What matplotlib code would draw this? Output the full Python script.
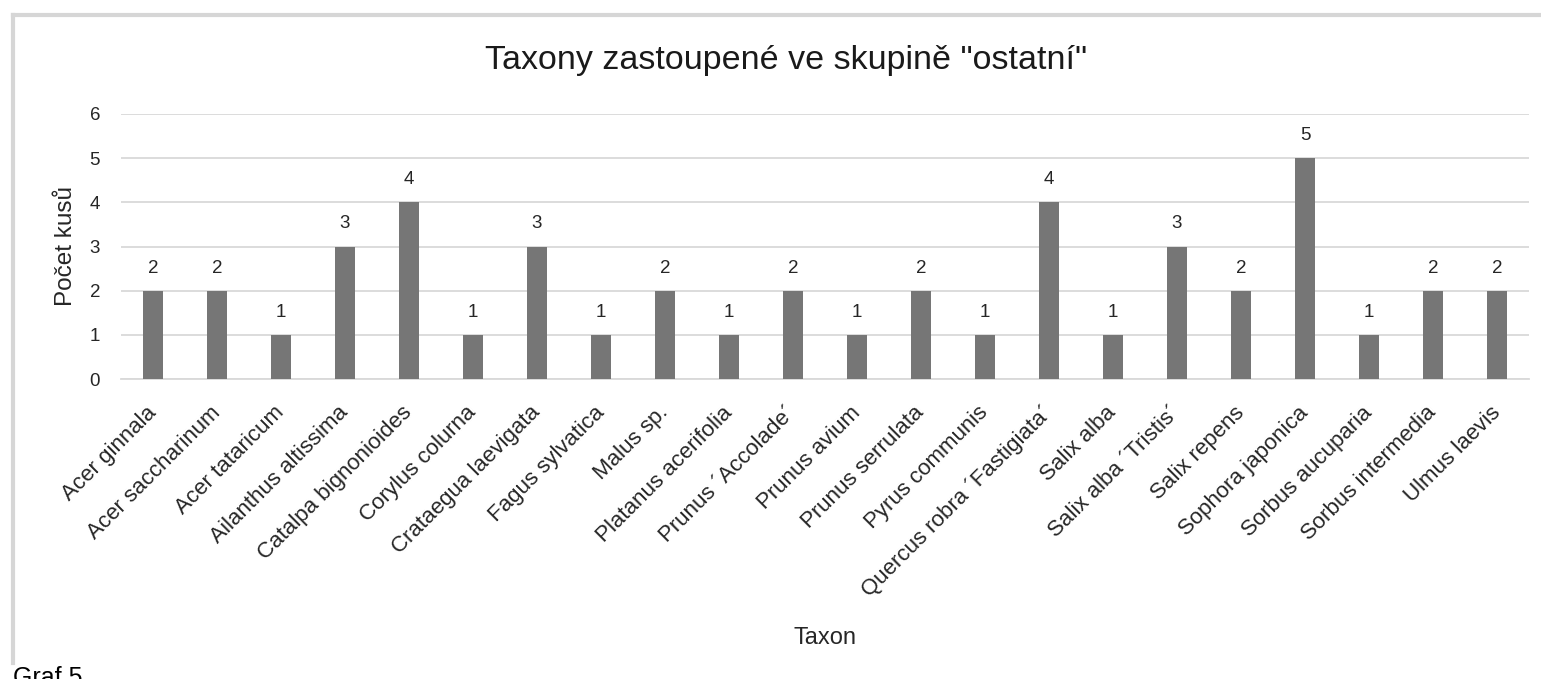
import matplotlib.pyplot as plt
from matplotlib.lines import Line2D

# ============================================================
# Data
# ============================================================
taxa = [
    "Acer ginnala",
    "Acer saccharinum",
    "Acer tataricum",
    "Ailanthus altissima",
    "Catalpa bignonioides",
    "Corylus colurna",
    "Crataegua laevigata",
    "Fagus sylvatica",
    "Malus sp.",
    "Platanus acerifolia",
    "Prunus \u00b4Accolade\u00b4",
    "Prunus avium",
    "Prunus serrulata",
    "Pyrus communis",
    "Quercus robra \u00b4Fastigiata\u00b4",
    "Salix alba",
    "Salix alba \u00b4Tristis\u00b4",
    "Salix repens",
    "Sophora japonica",
    "Sorbus aucuparia",
    "Sorbus intermedia",
    "Ulmus laevis",
]
counts = [2, 2, 1, 3, 4, 1, 3, 1, 2, 1, 2, 1, 2, 1, 4, 1, 3, 2, 5, 1, 2, 2]

title = 'Taxony zastoupené ve skupině "ostatní"'

plt.rcParams["font.family"] = ["Liberation Sans", "DejaVu Sans"]
text_color = "#262626"

W, H = 1541, 679
fig = plt.figure(figsize=(W / 100, H / 100), dpi=100)
ax = fig.add_axes([121 / W, 1 - 379 / H, 1408 / W, 265 / H])

x = range(len(taxa))
bars = ax.bar(x, counts, width=0.30, color="#767676", zorder=3)

for b, v in zip(bars, counts):
    ax.annotate(
        str(v),
        (b.get_x() + b.get_width() / 2, v),
        xytext=(0, 13),
        textcoords="offset points",
        ha="center",
        va="baseline",
        fontsize=13.5,
        color=text_color,
    )

ax.set_xlim(-0.5, len(taxa) - 0.5)
ax.set_ylim(0, 6)
ax.set_yticks(range(7))
ax.grid(axis="y", color="#d9d9d9", linewidth=1.3, zorder=0)
ax.set_axisbelow(True)

for side in ["top", "right", "left"]:
    ax.spines[side].set_visible(False)
ax.spines["bottom"].set_color("#d9d9d9")
ax.spines["bottom"].set_linewidth(1.3)

ax.tick_params(axis="both", length=0, colors=text_color)
ax.tick_params(axis="y", labelsize=13.5, pad=15)
ax.tick_params(axis="x", labelsize=16, pad=22)
ax.set_xticks(list(x))
ax.set_xticklabels(taxa, rotation=45, ha="right", va="center",
                   rotation_mode="anchor")

ax.set_ylabel("Počet kusů", fontsize=17.5, color=text_color)
ax.yaxis.set_label_coords((77 - 121) / 1408, 0.5)
ax.set_xlabel("Taxon", fontsize=17, color=text_color, va="center")
ax.xaxis.set_label_coords(0.5, (379 - 638) / 265)

fig.text(
    0.5 * (475 + 1097) / W,
    1 - 69 / H,
    title,
    ha="center",
    va="baseline",
    fontsize=24.5,
    color="#1a1a1a",
)

# frame lines along top and left edge
frame_color = "#d6d6d6"
fig.add_artist(Line2D([13 / W, 1.0], [1 - 15 / H, 1 - 15 / H],
                      transform=fig.transFigure, color=frame_color, linewidth=3))
fig.add_artist(Line2D([13 / W, 13 / W], [1 - 15 / H, 1 - 663 / H],
                      transform=fig.transFigure, color=frame_color, linewidth=3))

fig.text(13 / W, 1 - 685 / H, "Graf 5", ha="left", va="baseline",
         fontsize=18, color="#000000")

fig.savefig("out.png", dpi=100)
